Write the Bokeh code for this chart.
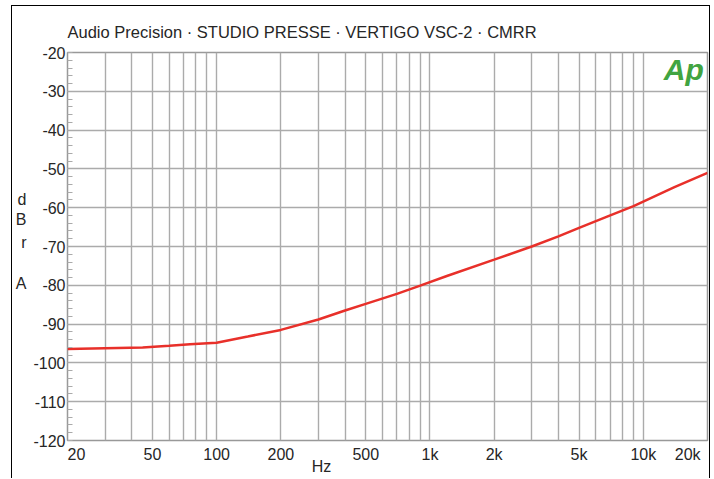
from bokeh.plotting import figure
from bokeh.models import FixedTicker, Range1d, Label, LogAxis, LinearAxis
from bokeh.embed import file_html
from bokeh.resources import INLINE

# ---- data ----
freq_hz = [20, 30, 45, 60, 75, 100, 140, 200, 300, 400, 500, 700, 900,
           1200, 2000, 3000, 4000, 5000, 7000, 9000, 14000, 20000]
cmrr_db = [-96.4, -96.2, -96.0, -95.6, -95.2, -94.8, -93.2, -91.5, -88.8, -86.5, -84.8, -82.2, -80.1,
           -77.6, -73.4, -70.0, -67.4, -65.2, -62.0, -59.6, -54.7, -51.0]

x_tick_values = [20, 50, 100, 200, 500, 1000, 2000, 5000, 10000, 20000]
x_tick_labels = ["20", "50", "100", "200", "500", "1k", "2k", "5k", "10k", "20k"]
x_grid_values = [20, 30, 40, 50, 60, 70, 80, 90, 100, 200, 300, 400, 500, 600, 700, 800, 900,
                 1000, 2000, 3000, 4000, 5000, 6000, 7000, 8000, 9000, 10000, 20000]
y_tick_values = [-20, -30, -40, -50, -60, -70, -80, -90, -100, -110, -120]
y_tick_labels = ["-20", "-30", "-40", "-50", "-60", "-70", "-80", "-90", "-100", "-110", "-120"]
y_minor_values = [v for v in range(-120, -19, 2)]

title_text = "Audio Precision \u00b7 STUDIO PRESSE \u00b7 VERTIGO VSC-2 \u00b7 CMRR"
y_unit_letters = ["d", "B", "r", "A"]
y_unit_at = [-57.9, -63.1, -69.0, -79.6]
x_unit_text = "Hz"
x_unit_at = 310

FONT = "Liberation Sans"
TXT = "#262626"
GRID = "#ababab"
NB = "\u00a0"

# edge labels are nudged inwards like in the original
x_label_text = list(x_tick_labels)
x_label_text[0] = NB * 4 + x_label_text[0]
x_label_text[-1] = x_label_text[-1] + NB * 2

p = figure(width=699, height=473, x_axis_type="log",
           x_range=Range1d(20, 20000), y_range=Range1d(-120, -20),
           output_backend="svg", toolbar_location=None,
           min_border_left=53, min_border_right=4, min_border_top=46, min_border_bottom=39)
p.styles = {"margin-left": "11px", "margin-top": "5px",
            "border-left": "1px solid #000", "border-top": "1px solid #000",
            "border-right": "1px solid #000"}

p.title.text = title_text
p.title.align = "left"
p.title.text_font = FONT
p.title.text_font_size = "16.5px"
p.title.text_font_style = "normal"
p.title.text_color = TXT
p.title.standoff = 23

p.background_fill_color = "white"
p.border_fill_color = "white"
p.outline_line_color = "#999999"
p.outline_line_width = 1.5


def plain_axis(ax, standoff):
    ax.major_tick_line_color = None
    ax.major_tick_out = 0
    ax.major_tick_in = 0
    ax.minor_tick_line_color = None
    ax.minor_tick_out = 0
    ax.axis_line_color = None
    ax.major_label_standoff = standoff
    ax.major_label_text_font = FONT
    ax.major_label_text_font_size = "16px"
    ax.major_label_text_color = TXT


# x axis
xa = p.xaxis[0]
xa.ticker = FixedTicker(ticks=x_tick_values, minor_ticks=[])
xa.major_label_overrides = {v: l for v, l in zip(x_tick_values, x_label_text)}
plain_axis(xa, 5)

# x unit ("Hz") as a second axis below
xu = LogAxis(ticker=FixedTicker(ticks=[x_unit_at], minor_ticks=[]),
             major_label_overrides={x_unit_at: x_unit_text})
plain_axis(xu, -8)
p.add_layout(xu, "below")

# y axis
ya = p.yaxis[0]
ya.ticker = FixedTicker(ticks=y_tick_values, minor_ticks=y_minor_values)
ya.major_label_overrides = {v: l for v, l in zip(y_tick_values, y_tick_labels)}
plain_axis(ya, 2)
ya.minor_tick_in = 5
ya.minor_tick_out = 0
ya.minor_tick_line_color = "#aaaaaa"
ya.minor_tick_line_width = 1

# y unit letters as a second axis on the left
yu = LinearAxis(ticker=FixedTicker(ticks=y_unit_at, minor_ticks=[]),
                major_label_overrides={v: l for v, l in zip(y_unit_at, y_unit_letters)})
plain_axis(yu, 4)
p.add_layout(yu, "left")

# grids
p.xgrid.ticker = FixedTicker(ticks=x_grid_values)
p.xgrid.grid_line_color = GRID
p.xgrid.grid_line_width = 1.4
p.ygrid.grid_line_color = GRID
p.ygrid.grid_line_width = 1.4

# curve
p.line(freq_hz, cmrr_db, line_color="#e8302a", line_width=2.5)

# Ap logo
p.add_layout(Label(x=19200, y=-20.0, text="Ap", text_align="right", text_baseline="top",
                   text_font=FONT, text_font_size="30px", text_font_style="bold italic",
                   text_color="#41a441"))

open("out.html", "w").write(file_html(p, INLINE))
